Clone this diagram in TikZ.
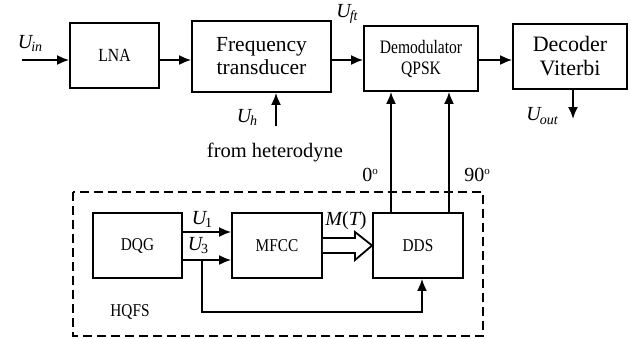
\documentclass[tikz,border=0pt]{standalone}
\usepackage{fontspec}
\setmainfont{Liberation Serif}
\newfontfamily\tsr{Liberation Serif}
\newfontfamily\tcond[FakeStretch=0.85]{Liberation Serif}
\newfontfamily\tcondd[FakeStretch=0.82]{Liberation Serif}
\usetikzlibrary{arrows.meta}
\begin{document}
\begin{tikzpicture}[x=1pt,y=-1pt,
  blk/.style={draw,line width=1.8pt,minimum width=0pt,inner sep=0pt},
  con/.style={line width=1.8pt,-{Latex[length=12pt,width=10pt]}},
  lab/.style={font=\tsr\fontsize{20}{22}\selectfont\itshape,inner sep=0pt}]
\useasboundingbox (0,0) rectangle (631,338);
% blocks
\node[blk,minimum width=89pt,minimum height=65pt,font=\tcond\fontsize{18.5}{20}\selectfont] (lna) at (114.5,55.5) {LNA};
\node[blk,minimum width=139pt,minimum height=71pt,align=center,font=\tsr\fontsize{21.5}{23}\selectfont] (ft) at (261.5,56.5) {Frequency\\transducer};
\node[blk,minimum width=114pt,minimum height=65pt,align=center,font=\tcondd\fontsize{19}{21}\selectfont] (dem) at (421,58.5) {Demodulator\\QPSK};
\node[blk,minimum width=114pt,minimum height=65pt,align=center,font=\tsr\fontsize{22}{24}\selectfont] (dec) at (570,56.5) {Decoder\\Viterbi};
\node[blk,minimum width=89pt,minimum height=65pt,font=\tcond\fontsize{18}{20}\selectfont] (dqg) at (137.5,245.5) {DQG};
\node[blk,minimum width=90pt,minimum height=65pt,font=\tcond\fontsize{18}{20}\selectfont] (mfcc) at (277,245.5) {MFCC};
\node[blk,minimum width=90pt,minimum height=65pt,font=\tcond\fontsize{18}{20}\selectfont] (dds) at (418,245.5) {DDS};
% dashed frame
\draw[line width=1.8pt,dash pattern=on 9pt off 5pt] (73,192) rectangle (483,336);
% coordinates
\coordinate (uin) at (22,60);
\coordinate (uh) at (276,126);
\coordinate (uout) at (573,119);
\coordinate (br) at (202,260);
% connectors top
\draw[con] (uin) -- (uin -| lna.west);
\draw[con] (lna.east |- 0,60) -- (ft.west |- 0,60);
\draw[con] (ft.east |- 0,60) -- (dem.west |- 0,60);
\draw[con] (dem.east |- 0,60) -- (dec.west |- 0,60);
\draw[con] (uh) -- (uh |- ft.south);
\draw[con] (dec.south -| uout) -- (uout);
\draw[con] (dds.north -| 391,0) -- (dem.south -| 391,0);
\draw[con] (dds.north -| 449,0) -- (dem.south -| 449,0);
% bottom connectors
\draw[con] (dqg.east |- 0,232) -- (mfcc.west |- 0,232);
\draw[con] (dqg.east |- 0,260) -- (mfcc.west |- 0,260);
\draw[con] (br) -- (202,312) -- (422,312) -- (dds.south -| 422,0);
% double arrow
\draw[line width=1.8pt,fill=white,line join=miter] (mfcc.east |- 0,238) -- (355,238) -- (355,232) -- (dds.west) -- (355,260) -- (355,253) -- (mfcc.east |- 0,253);
% labels
\node[lab] (luin) at (30,43) {U\kern-1pt\raisebox{-3pt}{\fontsize{14}{15}\selectfont in}};
\node[lab] (luft) at (347,14) {U\kern-1pt\raisebox{-3pt}{\fontsize{14}{15}\selectfont ft}};
\node[lab] (luh) at (247,117) {U\kern-1pt\raisebox{-3pt}{\fontsize{14}{15}\selectfont h}};
\node[lab] (luout) at (542,116) {U\kern-1pt\raisebox{-4pt}{\fontsize{14}{15}\selectfont out}};
\node[lab] (lu1) at (202,219) {U\kern-1pt\raisebox{-3pt}{\upshape\fontsize{14}{15}\selectfont 1}};
\node[lab] (lu3) at (198,246) {U\kern-1pt\raisebox{-3pt}{\upshape\fontsize{14}{15}\selectfont 3}};
\node[lab] (lmt) at (346,221) {M\upshape(\itshape T\upshape)};
\node[inner sep=0pt,font=\tsr\fontsize{20.5}{22}\selectfont] (het) at (275,152) {from heterodyne};
\node[inner sep=0pt,font=\tsr\fontsize{20}{22}\selectfont] (d0) at (370,175) {0\raisebox{7pt}{\fontsize{11}{12}\selectfont o}};
\node[inner sep=0pt,font=\tsr\fontsize{20}{22}\selectfont] (d90) at (477,175) {90\raisebox{7pt}{\fontsize{11}{12}\selectfont o}};
\node[inner sep=0pt,font=\tcond\fontsize{18}{20}\selectfont] (hqfs) at (130,312) {HQFS};
\end{tikzpicture}
\end{document}
